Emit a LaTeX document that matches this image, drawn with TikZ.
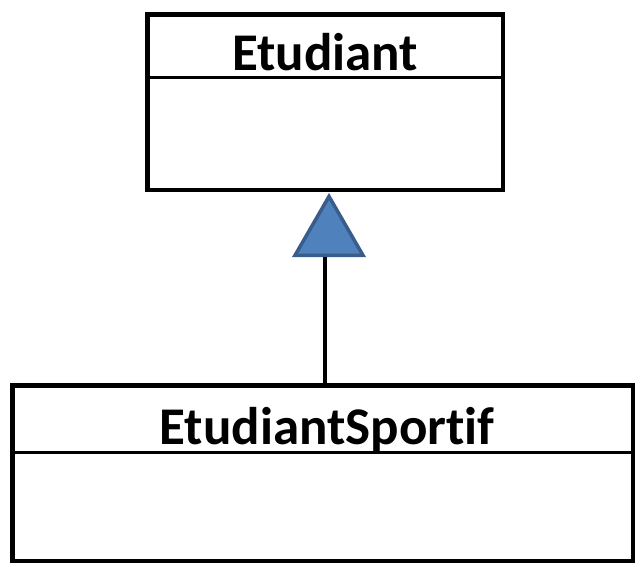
\documentclass[tikz,border=0pt]{standalone}
\usepackage{fontspec}
\setmainfont{Carlito}[Ligatures={NoCommon}]
\usepackage{xcolor}
\usetikzlibrary{shapes.geometric}
\definecolor{trifill}{HTML}{4F81BD}
\definecolor{triedge}{HTML}{385D8A}
\begin{document}
\begin{tikzpicture}[
    x=1pt, y=-1pt,
    classbox/.style  = {rectangle, draw, line width=4.5pt, inner sep=0pt},
    headbox/.style   = {rectangle, inner sep=0pt, outer sep=0pt, anchor=north},
    classname/.style = {font=\fontsize{53}{53}\selectfont\bfseries, anchor=base, inner sep=0pt},
    divider/.style   = {line width=3pt},
    link/.style      = {line width=3.5pt},
    generalise/.style= {regular polygon, regular polygon sides=3, draw=triedge, fill=trifill,
                        line width=3.5pt, minimum size=78.5pt, inner sep=0pt}
]
\useasboundingbox (0,0) rectangle (640,566);
% classe mere
\node[classbox, minimum width=355.5pt, minimum height=175.5pt] (etud) at (325,102) {};
\node[headbox, minimum width=355.5pt, minimum height=65.75pt] (etudhead) at (etud.north) {};
\draw[divider] (etudhead.south west) -- (etudhead.south east);
\node[classname] (etudname) at (325,70) {Etudiant};
% classe fille
\node[classbox, minimum width=620.5pt, minimum height=175.5pt] (sport) at (322.5,473) {};
\node[headbox, minimum width=620.5pt, minimum height=69.75pt] (sporthead) at (sport.north) {};
\draw[divider] (sporthead.south west) -- (sporthead.south east);
\node[classname] (sportname) at (327,444) {EtudiantSportif};
% heritage
\node[generalise] (gen) at (329,235.7) {};
\draw[link] ([xshift=2.5pt]sport.north) -- ([xshift=2.5pt]sport.north |- gen.south);
\end{tikzpicture}
\end{document}
